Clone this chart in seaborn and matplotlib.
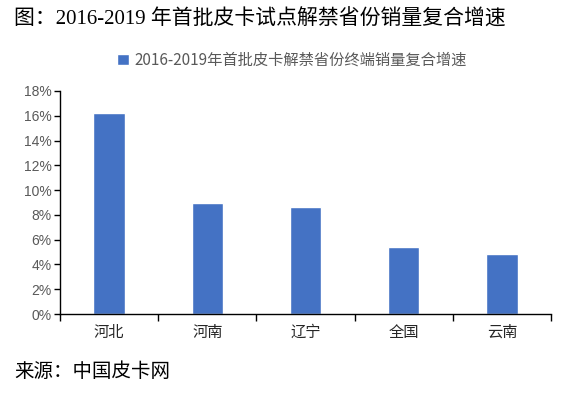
import matplotlib
matplotlib.use("Agg")
import matplotlib.pyplot as plt
import seaborn as sns
import pandas as pd
from matplotlib.ticker import FixedLocator, FuncFormatter

regions = ["河北", "河南", "辽宁", "全国", "云南"]
growth = [16.25, 9.0, 8.6, 5.37, 4.88]
yticks = [0, 2, 4, 6, 8, 10, 12, 14, 16, 18]
series_name = "2016-2019年首批皮卡解禁省份终端销量复合增速"
title = "图：2016-2019 年首批皮卡试点解禁省份销量复合增速"
source = "来源：中国皮卡网"

sns.set_theme(style="white")
plt.rcParams['font.family'] = ['DejaVu Sans', 'Noto Sans CJK SC']
cjk = ['Noto Sans CJK SC', 'DejaVu Sans']
serif = ['Liberation Serif', 'Noto Sans CJK SC']

df = pd.DataFrame({"region": regions, "growth": growth})

fig = plt.figure(figsize=(5.62, 3.96), dpi=100)
ax = fig.add_axes([60/562, 1-314/396, (551-60)/562, (314-91)/396])

sns.barplot(data=df, x="region", y="growth", color="#4472C4", width=0.32,
            saturation=1, ax=ax, label=series_name)

ax.set_xlim(-0.5, len(regions)-0.5)
ax.set_ylim(0, 18)
ax.set_yticks(yticks)
ax.yaxis.set_major_formatter(FuncFormatter(lambda v, p: f"{int(v)}%"))
ax.set_xlabel("")
ax.set_ylabel("")

for s in ["top", "right"]:
    ax.spines[s].set_visible(False)
for s in ["left", "bottom"]:
    ax.spines[s].set_color("black")
    ax.spines[s].set_linewidth(1.0)

ax.tick_params(axis="y", which="major", direction="out", length=4, width=1,
               color="black", labelsize=10, labelcolor="#595959", pad=2, left=True)
ax.tick_params(axis="x", which="major", length=0, pad=7, labelsize=11, labelcolor="#262626")
ax.xaxis.set_minor_locator(FixedLocator([i - 0.5 for i in range(len(regions)+1)]))
ax.tick_params(axis="x", which="minor", direction="out", length=5, width=1,
               color="black", bottom=True)
for lab in ax.get_xticklabels():
    lab.set_fontfamily(cjk)
for lab in ax.get_yticklabels():
    lab.set_fontfamily(['Liberation Sans', 'DejaVu Sans'])

leg = ax.legend(loc="center", bbox_to_anchor=(0.52, 1-60/396),
                bbox_transform=fig.transFigure, frameon=False,
                handlelength=0.75, handleheight=0.75, handletextpad=0.4,
                prop={'family': cjk, 'size': 11})
for t in leg.get_texts():
    t.set_color("#595959")

fig.text(14/562, 1-20/396, title, fontsize=15, va="center", ha="left",
         family=serif, color="black")
fig.text(14/562, 1-372/396, source, fontsize=14, va="center", ha="left",
         family=serif, color="black")

fig.savefig("out.png", dpi=100)
